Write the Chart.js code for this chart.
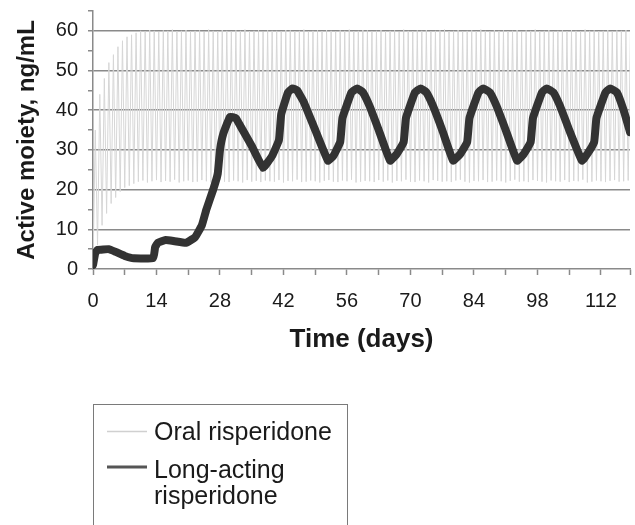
<!DOCTYPE html>
<html>
<head>
<meta charset="utf-8">
<script src="https://cdn.jsdelivr.net/npm/chart.js@4.4.1/dist/chart.umd.min.js"></script>
<style>
  html, body { margin: 0; padding: 0; background: #fff; }
  #wrap { position: relative; width: 635px; height: 525px; }
</style>
</head>
<body>
<div id="wrap"><canvas id="pkChart" width="635" height="525"></canvas></div>
<script>
// x tick labels (days) and y tick labels (ng/mL)
const xTickLabels = [0, 14, 28, 42, 56, 70, 84, 98, 112];
const yTickLabels = [0, 10, 20, 30, 40, 50, 60];

// oral risperidone: one dose per day, trough before the dose, peak after
const oralDays = [
  0, 1, 2, 3, 4, 5, 6, 7, 8, 9,
  10, 11, 12, 13, 14, 15, 16, 17, 18, 19,
  20, 21, 22, 23, 24, 25, 26, 27, 28, 29,
  30, 31, 32, 33, 34, 35, 36, 37, 38, 39,
  40, 41, 42, 43, 44, 45, 46, 47, 48, 49,
  50, 51, 52, 53, 54, 55, 56, 57, 58, 59,
  60, 61, 62, 63, 64, 65, 66, 67, 68, 69,
  70, 71, 72, 73, 74, 75, 76, 77, 78, 79,
  80, 81, 82, 83, 84, 85, 86, 87, 88, 89,
  90, 91, 92, 93, 94, 95, 96, 97, 98, 99,
  100, 101, 102, 103, 104, 105, 106, 107, 108, 109,
  110, 111, 112, 113, 114, 115, 116, 117, 118
];
const oralTrough = [
  0, 6, 11, 14, 16.5, 18, 19.5, 20.5, 21, 21.5,
  22, 22.3, 21.8, 22.1, 22.4, 21.9, 22.2, 22, 22.5, 21.8,
  22.1, 22.3, 21.9, 22, 22.4, 22.1, 21.8, 22.2, 22.5, 22,
  21.9, 22.3, 22.1, 21.8, 22.4, 22, 22.2, 21.9, 22.3, 22.1,
  22, 22.4, 21.8, 22.2, 22.1, 22.5, 21.9, 22, 22.3, 22.1,
  21.8, 22.2, 22.4, 22, 21.9, 22.3, 22.1, 22.5, 21.8, 22,
  22.2, 22.1, 21.9, 22.4, 22, 22.3, 21.8, 22.2, 22.1, 22.5,
  22, 21.9, 22.3, 22.1, 21.8, 22.4, 22.2, 22, 22.1, 21.9,
  22.3, 22.5, 22, 21.8, 22.2, 22.1, 22.4, 21.9, 22, 22.3,
  22.1, 21.8, 22.2, 22.5, 22, 22.1, 21.9, 22.4, 22.2, 22,
  21.8, 22.3, 22.1, 22, 22.4, 21.9, 22.2, 22.1, 22.5, 21.8,
  22, 22.3, 22.1, 21.9, 22.2, 22.4, 22, 22.1, 22.3
];
const oralPeak = [
  35, 44, 48, 52, 54, 56, 57.5, 58.5, 59, 59.5,
  60, 59.8, 60.2, 60, 59.7, 60.1, 60, 60.3, 59.9, 60,
  60.2, 59.8, 60, 60.1, 59.7, 60.3, 60, 59.9, 60.2, 60,
  59.8, 60.1, 60, 60.3, 59.9, 60, 60.2, 59.7, 60.1, 60,
  60, 59.8, 60.2, 60.1, 59.9, 60, 60.3, 59.8, 60, 60.1,
  59.9, 60.2, 60, 59.8, 60.1, 60, 60.3, 59.9, 60, 60.2,
  60.1, 59.8, 60, 60.2, 59.9, 60, 60.1, 59.7, 60.3, 60,
  59.9, 60.1, 60, 60.2, 59.8, 60, 60.1, 60.3, 59.9, 60,
  60.2, 59.8, 60, 60.1, 59.9, 60.3, 60, 59.8, 60.2, 60,
  60.1, 59.9, 60, 60.2, 59.7, 60.1, 60, 60.3, 59.9, 60,
  60.2, 59.8, 60, 60.1, 59.9, 60.2, 60, 59.8, 60.3, 60,
  60.1, 59.9, 60, 60.2, 59.8, 60.1, 60, 60.2, 59.9
];

// long-acting risperidone injection (every 2 weeks)
const laiDays = [
  0, 0.5, 1, 3.5, 5, 7, 9, 13.3, 13.7, 14.3,
  16, 18, 20.5, 22.5, 24, 25, 26.5, 27.5, 28, 28.7,
  30.2, 31.5, 33, 35, 37.5, 39.5, 41, 41.5, 43, 44,
  45, 46.5, 49, 51.8, 53, 54.5, 55, 57, 58.2, 59.5,
  61, 63, 65.5, 67, 68.5, 69, 71, 72.2, 73.5, 75,
  77, 79.4, 81, 82.5, 83, 85, 86, 87.5, 89, 91,
  93.5, 95, 96.5, 97, 99, 100, 101.5, 103, 105, 107.8,
  109, 110.5, 111, 113, 114, 115.5, 117, 118.4
];
const laiValues = [
  1, 4, 4.8, 5, 4.3, 3.3, 2.7, 2.8, 5.5, 6.6,
  7.3, 7, 6.6, 8, 11, 15, 20, 24, 30, 34,
  38.3, 38, 35, 31, 25.5, 28.5, 32.5, 39, 44.5, 45.5,
  45, 42, 35, 27.3, 28.5, 32, 38, 44.5, 45.5, 44.5,
  41, 35, 27.3, 29, 32, 38, 44.5, 45.5, 44.5, 41,
  35, 27.3, 29, 32, 38, 44.5, 45.5, 44.5, 41, 35,
  27.3, 29, 32, 38, 44.5, 45.5, 44.5, 41, 35, 27.3,
  29, 32, 38, 44.5, 45.5, 44.5, 40, 34.5
];

const legendLines = [['Oral risperidone'], ['Long-acting', 'risperidone']];

const FONT = "'Liberation Sans', Arial, Helvetica, sans-serif";
const axisGray = '#8a8a8a';

// build point lists for the library
let oralPoints = [];
oralDays.forEach(function (d, i) {
    oralPoints.push({ x: d, y: oralTrough[i] });
    oralPoints.push({ x: d + 0.5, y: oralPeak[i] });
});
let laiPoints = laiDays.map(function (d, i) {
    return { x: d, y: laiValues[i] };
});

function isLabel(list, v) {
    return list.some(function (t) { return Math.abs(t - v) < 0.01; });
}

// hand-drawn legend box below the plot
const legendBox = {
    id: 'legendBox',
    afterDraw(chart) {
        const c = chart.ctx;
        c.save();
        c.strokeStyle = '#7a7a7a';
        c.lineWidth = 1;
        c.strokeRect(93.5, 404.5, 254, 140);

        c.font = '25px ' + FONT;
        c.fillStyle = '#1a1a1a';
        c.textBaseline = 'alphabetic';
        c.textAlign = 'left';

        // oral
        c.strokeStyle = '#d0d0d0';
        c.lineWidth = 1.5;
        c.beginPath(); c.moveTo(107, 431.5); c.lineTo(147, 431.5); c.stroke();
        c.fillText(legendLines[0][0], 154, 440);

        // long-acting
        c.strokeStyle = '#555555';
        c.lineWidth = 3;
        c.beginPath(); c.moveTo(107, 467); c.lineTo(147, 467); c.stroke();
        c.fillText(legendLines[1][0], 154, 478);
        c.fillText(legendLines[1][1], 154, 504);
        c.restore();
    }
};

const ctx = document.getElementById('pkChart').getContext('2d');

new Chart(ctx, {
    type: 'line',
    data: {
        datasets: [
            {
                label: 'Oral risperidone',
                data: oralPoints,
                borderColor: '#d6d6d6',
                borderWidth: 1,
                pointRadius: 0,
                tension: 0,
                order: 2
            },
            {
                label: 'Long-acting risperidone',
                data: laiPoints,
                borderColor: '#333333',
                borderWidth: 8,
                pointRadius: 0,
                tension: 0.1,
                borderJoinStyle: 'round',
                borderCapStyle: 'round',
                order: 1
            }
        ]
    },
    options: {
        responsive: false,
        animation: false,
        devicePixelRatio: 1,
        layout: {
            padding: { top: 11, right: 5, bottom: 170, left: 0 }
        },
        plugins: {
            legend: { display: false },
            tooltip: { enabled: false }
        },
        scales: {
            x: {
                type: 'linear',
                min: 0,
                max: 118.4,
                afterBuildTicks: function (scale) {
                    scale.ticks.push({ value: scale.max });
                },
                afterFit: function (scale) {
                    scale.height = 86;
                    scale.paddingLeft = 0;
                    scale.paddingRight = 0;
                },
                grid: {
                    drawOnChartArea: false,
                    tickLength: 6,
                    tickColor: axisGray,
                    tickWidth: 1.5
                },
                border: { color: axisGray, width: 1.5 },
                ticks: {
                    stepSize: 7,
                    includeBounds: false,
                    autoSkip: false,
                    maxRotation: 0,
                    padding: 14,
                    color: '#1a1a1a',
                    font: { family: FONT, size: 20 },
                    callback: function (v) {
                        return isLabel(xTickLabels, v) ? String(Math.round(v)) : '';
                    }
                },
                title: {
                    display: true,
                    text: 'Time (days)',
                    color: '#1a1a1a',
                    font: { family: FONT, size: 26, weight: 'bold' },
                    padding: { top: 0, bottom: 0 }
                }
            },
            y: {
                min: 0,
                max: 65,
                afterFit: function (scale) {
                    scale.width = 93;
                    scale.paddingTop = 0;
                    scale.paddingBottom = 0;
                },
                grid: {
                    color: function (c) {
                        const v = c.tick.value;
                        return (v > 0 && isLabel(yTickLabels, v)) ? axisGray : 'rgba(0,0,0,0)';
                    },
                    lineWidth: 1.5,
                    tickLength: 5,
                    tickColor: axisGray,
                    tickWidth: 1.5
                },
                border: { color: axisGray, width: 1.5 },
                ticks: {
                    stepSize: 5,
                    autoSkip: false,
                    padding: 10,
                    color: '#1a1a1a',
                    font: { family: FONT, size: 20 },
                    callback: function (v) {
                        return isLabel(yTickLabels, v) ? String(Math.round(v)) : '';
                    }
                },
                title: {
                    display: true,
                    text: 'Active moiety, ng/mL',
                    color: '#1a1a1a',
                    font: { family: FONT, size: 24, weight: 'bold' },
                    padding: { top: 13, bottom: 0 }
                }
            }
        }
    },
    plugins: [legendBox]
});
</script>
</body>
</html>
